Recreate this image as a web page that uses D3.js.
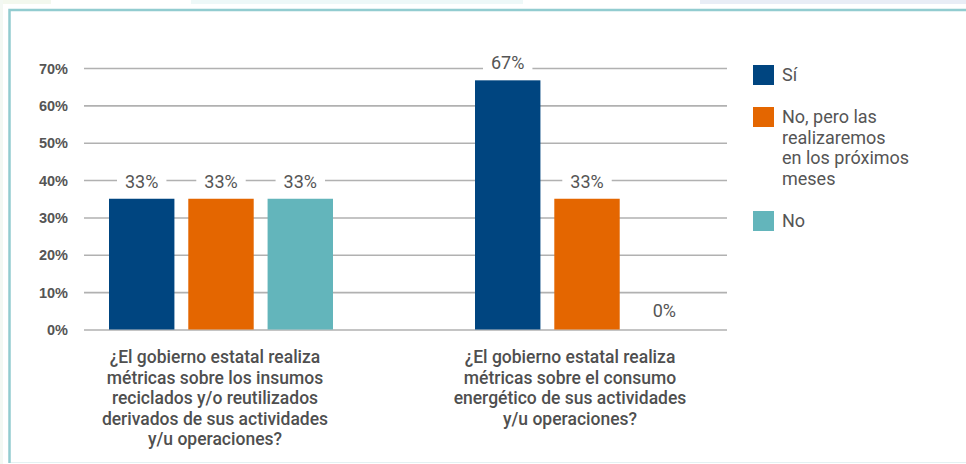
<!DOCTYPE html>
<html>
<head>
<meta charset="utf-8">
<script src="https://cdn.jsdelivr.net/npm/d3@7"></script>
<style>
  body { margin: 0; background: #fff; }
  svg { display: block; font-family: Roboto, "Noto Sans", sans-serif; }
</style>
</head>
<body>
<div id="chart"></div>
<script>
// categories (question text, one entry per line)
var categories = [
  ["¿El gobierno estatal realiza", "métricas sobre los insumos", "reciclados y/o reutilizados", "derivados de sus actividades", "y/u operaciones?"],
  ["¿El gobierno estatal realiza", "métricas sobre el consumo", "energético de sus actividades", "y/u operaciones?"]
];
var seriesNames = ["Sí", "No, pero las realizaremos en los próximos meses", "No"];
var legendLines = [["Sí"], ["No, pero las", "realizaremos", "en los próximos", "meses"], ["No"]];
// bar heights as drawn, and the labels printed above them
var valuesSi = [35, 66.7];
var valuesNoPero = [35, 35];
var valuesNo = [35, 0];
var labelsSi = ["33%", "67%"];
var labelsNoPero = ["33%", "33%"];
var labelsNo = ["33%", "0%"];
var yTicks = [0, 10, 20, 30, 40, 50, 60, 70];
var colours = ["#004580", "#e46600", "#63b5bb"];

function init() {
  var w = 966;
  var h = 464;
  var left = 84, right = 727, top = 68, bottom = 329.5;

  var svg = d3.select("#chart")
    .append("svg")
    .attr("width", w)
    .attr("height", h);

  // faint strips left over at the top of the picture
  svg.append("rect").attr("x", 0).attr("y", 0).attr("width", 51).attr("height", 4).attr("fill", "#f3f8ee");
  svg.append("rect").attr("x", 0).attr("y", 0).attr("width", 3).attr("height", h).attr("fill", "#f3f8f3");
  svg.append("rect").attr("x", 191).attr("y", 0).attr("width", 332).attr("height", 4).attr("fill", "#eef8f8");
  svg.append("rect").attr("x", 700).attr("y", 0).attr("width", 266).attr("height", 4).attr("fill", "#e9edf6");

  // frame
  svg.append("path")
    .attr("d", "M9.5," + (h - 1) + "V10H" + w)
    .attr("fill", "none")
    .attr("stroke", "#92ccd0")
    .attr("stroke-width", 2.5);
  svg.append("line")
    .attr("x1", 11).attr("x2", w).attr("y1", h - 1.5).attr("y2", h - 1.5)
    .attr("stroke", "#e4f1f2").attr("stroke-width", 1);

  var y = d3.scaleLinear().domain([0, 70]).range([bottom, top]);

  var x0 = d3.scaleBand()
    .domain(d3.range(categories.length))
    .range([left - 1.5, right - 1.5])
    .paddingInner(0.388)
    .paddingOuter(0.0724);

  var x1 = d3.scaleBand()
    .domain(d3.range(seriesNames.length))
    .range([0, x0.bandwidth()])
    .paddingInner(0.175);

  // gridlines + tick labels
  var yAxis = d3.axisLeft(y)
    .tickValues(yTicks)
    .tickSize(left - right)
    .tickPadding(16)
    .tickFormat(function (d) { return d + "%"; });

  var gAxis = svg.append("g")
    .attr("transform", "translate(" + left + ",0)")
    .call(yAxis);
  gAxis.select(".domain").remove();
  gAxis.selectAll(".tick line")
    .attr("stroke", "#b1b1b1")
    .attr("stroke-width", 1.6);
  gAxis.selectAll(".tick text")
    .attr("fill", "#555")
    .style("font-size", "14.5px")
    .style("font-weight", "bold")
    .attr("dy", "0.35em");

  var series = [
    { values: valuesSi, labels: labelsSi },
    { values: valuesNoPero, labels: labelsNoPero },
    { values: valuesNo, labels: labelsNo }
  ];

  series.forEach(function (s, si) {
    s.values.forEach(function (v, ci) {
      var bx = x0(ci) + x1(si);
      if (v > 0) {
        svg.append("rect")
          .attr("x", bx)
          .attr("y", y(v))
          .attr("width", x1.bandwidth())
          .attr("height", y(0) - y(v))
          .attr("fill", colours[si]);
      }
      var cx = bx + x1.bandwidth() / 2 - (v > 0 ? 0 : 2);
      var ty = y(v) - (v > 0 ? 11 : 13);
      var t = svg.append("text")
        .attr("x", cx)
        .attr("y", ty)
        .attr("text-anchor", "middle")
        .attr("fill", "#555")
        .style("font-size", "18px")
        .text(s.labels[ci]);
      if (v > 0) {
        var bb = t.node().getBBox();
        svg.insert("rect", function () { return t.node(); })
          .attr("x", bb.x - 8)
          .attr("y", bb.y + 2)
          .attr("width", bb.width + 16)
          .attr("height", bb.height - 4)
          .attr("fill", "#fff");
      }
    });
  });

  // category labels
  var labelShift = [-6, -17];
  categories.forEach(function (lines, ci) {
    var cx = x0(ci) + x0.bandwidth() / 2 + labelShift[ci];
    var t = svg.append("text")
      .attr("x", cx)
      .attr("y", 363)
      .attr("text-anchor", "middle")
      .attr("fill", "#4f4f4f")
      .style("font-size", "17.5px")
      .style("font-weight", "500");
    lines.forEach(function (line, i) {
      t.append("tspan")
        .attr("x", cx)
        .attr("dy", i === 0 ? 0 : 20.5)
        .text(line);
    });
  });

  // legend
  var legendY = [65, 107, 211];
  legendLines.forEach(function (lines, i) {
    svg.append("rect")
      .attr("x", 753)
      .attr("y", legendY[i])
      .attr("width", 21)
      .attr("height", 20)
      .attr("fill", colours[i]);
    var t = svg.append("text")
      .attr("x", 782)
      .attr("y", legendY[i] + 16)
      .attr("fill", "#555")
      .style("font-size", "18px");
    lines.forEach(function (line, j) {
      t.append("tspan")
        .attr("x", 782)
        .attr("dy", j === 0 ? 0 : 20.5)
        .text(line);
    });
  });
}
window.onload = init;
</script>
</body>
</html>
